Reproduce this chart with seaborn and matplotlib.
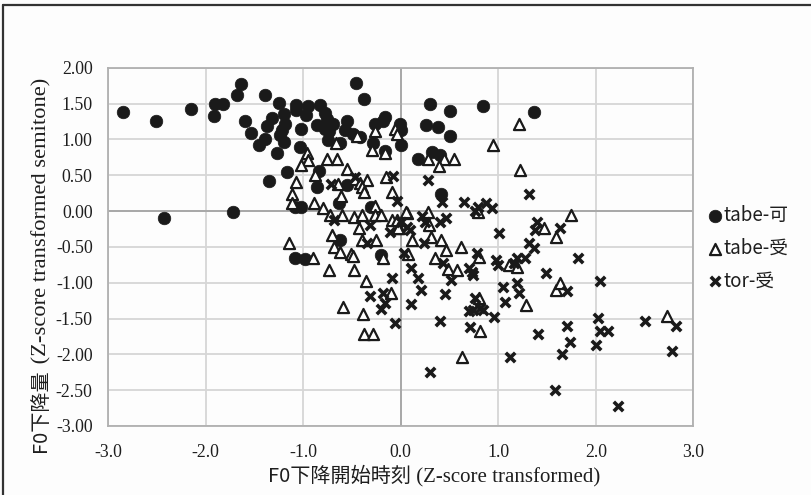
import matplotlib
matplotlib.use("Agg")
import matplotlib.pyplot as plt
from matplotlib.lines import Line2D
import seaborn as sns
import numpy as np

# ---- data ----
ka_x = [-2.85, -2.51, -2.43, -2.15, -1.90, -1.82, -1.91, -1.72, -1.68, -1.64, -1.60, -1.53,
        -1.39, -1.35, -1.45, -1.39, -1.25, -1.32, -1.37, -1.27, -1.20, -1.19, -1.22, -1.24,
        -1.20, -1.16, -1.07, -1.07, -1.02, -1.03, -0.95, -0.97, -0.83, -0.78, -0.76, -0.86,
        -0.78, -0.69, -0.73, -0.74, -0.62, -0.84, -0.86, -1.08, -1.02, -0.55, -0.63, -0.62,
        -1.08, -0.98, -0.46, -0.38, -0.55, -0.57, -0.49, -0.42, -0.28, -0.26, -0.18, -0.16,
        -0.16, -0.30, -0.20, -0.01, 0.00, 0.00, 0.18, 0.30, 0.51, 0.84, 1.37, 0.26,
        0.38, 0.51, 0.32, 0.40, 0.41]
ka_y = [1.38, 1.25, -0.10, 1.42, 1.50, 1.49, 1.33, -0.02, 1.62, 1.77, 1.26, 1.09,
        1.62, 0.42, 0.92, 1.00, 1.51, 1.30, 1.18, 0.81, 1.36, 1.22, 1.13, 1.06,
        0.97, 0.55, 1.48, 1.41, 1.14, 0.90, 1.46, 1.34, 1.48, 1.37, 1.29, 1.20,
        1.15, 1.22, 1.12, 0.99, 0.95, 0.56, 0.33, 0.06, 0.05, 0.37, 0.11, -0.41,
        -0.66, -0.67, 1.78, 1.57, 1.26, 1.13, 1.08, 1.03, 0.95, 1.22, 1.25, 1.31,
        0.84, 0.06, -0.61, 1.22, 1.13, 0.92, 0.73, 1.50, 1.40, 1.47, 1.38, 1.20,
        1.17, 1.04, 0.83, 0.78, 0.24]

uke_x = [-1.14, -1.11, -1.11, -0.90, -0.73, -0.48, -0.36, -0.59, -0.39, -0.38, -0.28, -0.10,
         -0.26, -0.45, -0.06, -0.04, -0.66, -0.29, -0.16, -0.96, -0.95, -1.02, -0.75, -0.65,
         -0.55, -0.88, -1.07, -0.64, -0.47, -0.42, -0.35, -0.40, -0.15, -0.09,
         1.21, 0.95, 1.22, 0.28, 0.44, 0.55, 0.39, 1.75,
         -0.61, -0.38, -0.89, -0.80, -0.72, -0.60, -0.48, -0.40, -0.26, -0.26, -0.20, -0.43,
         -0.09, 0.06, -0.02, 0.12, -0.70, -0.40, -0.25, -0.68, -0.62, -0.51, -0.49, -0.18,
         0.08, -0.04, -0.03, 0.05,
         0.28, 0.29, 0.31, 0.41, 0.46, 0.62, 0.35, 0.49, 0.58, 0.79, 0.80, 1.11,
         1.19, 1.47, 1.59, 0.80, 1.28, 0.81, 1.59, 2.73, 1.63, 0.63]
uke_y = [-0.44, 0.24, 0.11, -0.66, -0.82, -0.82, -0.97, -1.34, -1.44, -1.72, -1.72, -1.15,
         1.11, 1.04, 1.14, 1.07, 0.95, 0.85, 0.81, 0.81, 0.71, 0.64, 0.72, 0.72,
         0.59, 0.50, 0.41, 0.38, 0.45, 0.39, 0.43, 0.33, 0.47, 0.27,
         1.21, 0.92, 0.57, 0.73, 0.73, 0.73, 0.63, -0.06,
         0.21, 0.26, 0.11, 0.04, -0.06, -0.06, -0.08, -0.06, 0.07, -0.06, -0.06, -0.23,
         -0.12, -0.03, -0.23, -0.40, -0.33, -0.40, -0.40, -0.50, -0.57, -0.60, -0.63, -0.66,
         -0.60, -0.13, -0.24, -0.01,
         -0.02, -0.20, -0.36, -0.40, -0.55, -0.50, -0.66, -0.81, -0.83, -0.01, -0.64, -0.75,
         -0.78, -0.23, -0.36, -1.22, -1.31, -1.68, -1.10, -1.47, -1.01, -2.04]

tor_x = [-0.71, -0.47, -0.08, 0.28, 1.32,
         -0.04, -0.68, -0.31, -0.11, 0.00, 0.10, 0.22, 0.25, 0.24, -0.35, 0.03, 0.11,
         0.18, -0.09, 0.21, -0.31, -0.18, -0.16, -0.20, 0.11, -0.06, 0.07,
         0.42, 0.65, 0.79, 0.76, 0.87, 0.94, 0.40, 0.46, 0.43, 0.78, 0.70, 0.73,
         0.74, 0.52, 0.45, 0.76, 0.74, 0.81, 0.70, 0.84, 0.40, 0.96, 0.71, 0.98,
         1.00, 1.01, 1.19, 1.16, 1.27, 1.32, 1.37, 1.40, 1.38, 1.49, 1.05, 1.19,
         1.21, 1.07, 1.41, 1.63,
         1.82, 2.04, 1.71, 2.02, 1.71, 1.74, 2.04, 2.13, 2.00, 1.65, 2.50, 2.82,
         2.78, 1.58, 2.23, 1.12, 0.30]
tor_y = [0.38, 0.48, 0.49, 0.43, 0.24,
         0.14, -0.12, -0.20, -0.29, -0.15, -0.27, -0.07, -0.16, -0.45, -0.45, -0.59, -0.79,
         -0.93, -0.94, -1.10, -1.19, -1.15, -1.28, -1.37, -1.30, -1.56, -0.22,
         0.12, 0.12, 0.06, 0.00, 0.11, 0.04, -0.16, -0.10, -0.72, -0.58, -0.80, -0.85,
         -0.89, -0.96, -1.16, -1.22, -1.38, -1.36, -1.40, -1.38, -1.53, -1.48, -1.62, -0.69,
         -0.75, -0.31, -0.66, -0.73, -0.66, -0.45, -0.52, -0.15, -0.27, -0.86, -1.06, -1.01,
         -1.15, -1.27, -1.72, -0.24,
         -0.65, -0.97, -1.11, -1.49, -1.61, -1.83, -1.67, -1.67, -1.87, -2.00, -1.53, -1.61,
         -1.95, -2.50, -2.72, -2.04, -2.25]

labels = ["tabe-可", "tabe-受", "tor-受"]
x_ticks = [-3.0, -2.0, -1.0, 0.0, 1.0, 2.0, 3.0]
y_ticks = [2.00, 1.50, 1.00, 0.50, 0.00, -0.50, -1.00, -1.50, -2.00, -2.50, -3.00]

# ---- style ----
sns.set_style("white")
plt.rcParams["axes.unicode_minus"] = False
SERIF = "Liberation Serif"
CJK = ["Noto Sans CJK JP", "DejaVu Sans"]
plt.rcParams["font.family"] = CJK

W, H = 811, 495
fig = plt.figure(figsize=(W / 100, H / 100), dpi=100, facecolor="#fdfdfd")
ax = fig.add_axes([108 / W, 1 - 426 / H, (693.3 - 108) / W, (426 - 67.7) / H])
ax.set_facecolor("#fdfdfd")

# grid
ax.set_xlim(-3, 3)
ax.set_ylim(-3, 2)
ax.set_xticks(x_ticks)
ax.set_yticks(y_ticks)
ax.grid(True, color="#d6d6d6", linewidth=1.3, zorder=0)
ax.set_axisbelow(True)
ax.axhline(0, color="#a8a8a8", linewidth=1.4, zorder=1)
ax.axvline(0, color="#a8a8a8", linewidth=1.4, zorder=1)
for sp in ax.spines.values():
    sp.set_color("#b0b0b0")
    sp.set_linewidth(1.3)

# points
sns.scatterplot(x=ka_x, y=ka_y, marker="o", s=82, color="#1a1a1a", edgecolor="#1a1a1a",
                linewidth=0.5, label=labels[0], ax=ax, zorder=3)
sns.scatterplot(x=uke_x, y=uke_y, marker="^", s=64, color="white", edgecolor="#1a1a1a",
                linewidth=1.6, label=labels[1], ax=ax, zorder=4)
sns.scatterplot(x=tor_x, y=tor_y, marker="x", s=46, color="#1a1a1a",
                linewidth=2.6, label=labels[2], ax=ax, zorder=5)

ax.set_xlabel("")
ax.set_ylabel("")
ax.tick_params(length=0, pad=11)
ax.tick_params(axis="x", pad=13)
ax.set_xticklabels([f"{v:.1f}" for v in x_ticks], family=SERIF, fontsize=12.8, color="#1e1e1e")
ax.set_yticklabels([f"{v:.2f}" for v in y_ticks], family=SERIF, fontsize=12.8, color="#1e1e1e")

# legend
leg = ax.legend(loc="upper left", bbox_to_anchor=(711 / W, 1 - 205 / H),
                bbox_transform=fig.transFigure, frameon=False, handlelength=0.45,
                handletextpad=0.2, labelspacing=0.62, borderaxespad=0, borderpad=0,
                prop={"family": CJK, "size": 13.5}, markerscale=1.0)
for t in leg.get_texts():
    t.set_color("#1e1e1e")

# axis titles (two fonts each)
fig.canvas.draw()
r = fig.canvas.get_renderer()
bx = 482
t1 = fig.text(268 / W, 1 - bx / H, "F0下降開始時刻", family=CJK, fontsize=14.5,
              ha="left", va="baseline", color="#1e1e1e")
bb = t1.get_window_extent(r)
fig.text(bb.x1 / W, 1 - bx / H, " (Z-score transformed)", family=SERIF, fontsize=15,
         ha="left", va="baseline", color="#1e1e1e")

yx = 46.5
t3 = fig.text(yx / W, 1 - 452 / H, "F0下降量", family=CJK, fontsize=14.5, rotation=90,
              rotation_mode="anchor", ha="left", va="baseline", color="#1e1e1e")
bb3 = t3.get_window_extent(r)
fig.text(yx / W, bb3.y1 / H, " (Z-score transformed semitone)", family=SERIF, fontsize=16.2,
         rotation=90, rotation_mode="anchor", ha="left", va="baseline", color="#1e1e1e")

# chart frame (top and left edges visible)
fig.add_artist(Line2D([3.5 / W, 3.5 / W], [0, 1 - 4.5 / H], transform=fig.transFigure,
                      color="#333333", linewidth=1.6))
fig.add_artist(Line2D([3.5 / W, 1], [1 - 4.5 / H, 1 - 4.5 / H], transform=fig.transFigure,
                      color="#333333", linewidth=1.6))

fig.savefig("out.png", dpi=100, facecolor=fig.get_facecolor())
